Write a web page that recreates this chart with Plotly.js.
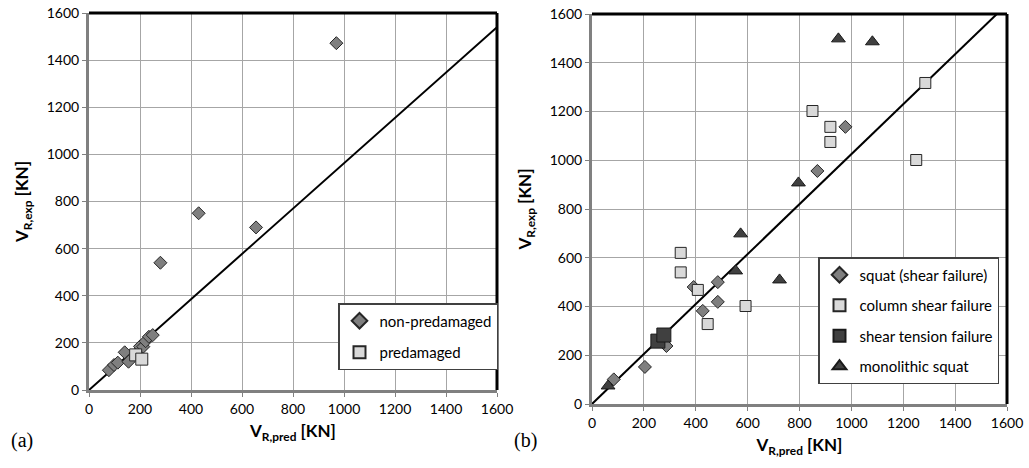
<!DOCTYPE html>
<html>
<head>
<meta charset="utf-8">
<script src="https://cdn.plot.ly/plotly-3.0.1.min.js"></script>
<style>body{margin:0;padding:0;background:#fff}#chart{width:1029px;height:468px}</style>
</head>
<body>
<div id="chart"></div>
<script>
// ---- Panel (a) data ----
const nonPredX = [78, 98, 113, 140, 155, 200, 213, 222, 235, 250, 280, 430, 655, 970];
const nonPredY = [84, 106, 116, 160, 120, 185, 184, 207, 226, 233, 540, 750, 690, 1472];
const predX = [183, 207];
const predY = [149, 131];
const lineAX = [0, 1600];
const lineAY = [0, 1540];

// ---- Panel (b) data ----
const squatX = [84, 204, 287, 392, 427, 485, 485, 869, 977];
const squatY = [101, 152, 238, 480, 382, 500, 419, 956, 1137];
const colX = [342, 342, 408, 446, 592, 850, 919, 919, 1250, 1285];
const colY = [540, 620, 468, 328, 402, 1202, 1137, 1075, 1001, 1317];
const tensX = [254, 277];
const tensY = [258, 283];
const monoX = [62, 554, 573, 723, 796, 950, 1081];
const monoY = [74, 546, 698, 509, 907, 1498, 1486];
const lineBX = [0, 1561];
const lineBY = [0, 1600];

const tickVals = [0, 200, 400, 600, 800, 1000, 1200, 1400, 1600];
const tickText = ['0', '200', '400', '600', '800', '1000', '1200', '1400', '1600'];

const font = 'Lato, "Open Sans", sans-serif';
const outline = {color: '#262626', width: 1};

const traces = [
  {x: lineAX, y: lineAY, mode: 'lines', line: {color: '#000', width: 2}, showlegend: false, hoverinfo: 'skip', xaxis: 'x', yaxis: 'y'},
  {x: nonPredX, y: nonPredY, mode: 'markers', name: 'non-predamaged', legendgroup: 'a1',
   marker: {symbol: 'diamond', size: 10, color: '#7f7f7f', line: outline}, xaxis: 'x', yaxis: 'y', legend: 'legend'},
  {x: predX, y: predY, mode: 'markers', name: 'predamaged', legendgroup: 'a2',
   marker: {symbol: 'square', size: 12, color: '#d9d9d9', line: outline}, xaxis: 'x', yaxis: 'y', legend: 'legend'},

  {x: lineBX, y: lineBY, mode: 'lines', line: {color: '#000', width: 2}, showlegend: false, hoverinfo: 'skip', xaxis: 'x2', yaxis: 'y2'},
  {x: squatX, y: squatY, mode: 'markers', name: 'squat (shear failure)', legendgroup: 'b1',
   marker: {symbol: 'diamond', size: 10, color: '#7f7f7f', line: outline}, xaxis: 'x2', yaxis: 'y2', legend: 'legend2'},
  {x: colX, y: colY, mode: 'markers', name: 'column shear failure', legendgroup: 'b2',
   marker: {symbol: 'square', size: 11, color: '#d9d9d9', line: outline}, xaxis: 'x2', yaxis: 'y2', legend: 'legend2'},
  {x: tensX, y: tensY, mode: 'markers', name: 'shear tension failure', legendgroup: 'b3',
   marker: {symbol: 'square', size: 14, color: '#404040', line: {color: '#1a1a1a', width: 1}}, xaxis: 'x2', yaxis: 'y2', legend: 'legend2'},
  {x: monoX, y: monoY, mode: 'markers', name: 'monolithic squat', legendgroup: 'b4',
   marker: {symbol: 'triangle-up', size: 12, color: '#404040', line: {color: '#1a1a1a', width: 1}}, xaxis: 'x2', yaxis: 'y2', legend: 'legend2'}
];

function axis(domain, anchor) {
  return {
    domain: domain, anchor: anchor, range: [0, 1600], tickvals: tickVals, ticktext: tickText,
    showgrid: true, gridcolor: '#a6a6a6', gridwidth: 1, zeroline: false,
    showline: true, linecolor: '#808080', linewidth: 3,
    ticks: 'outside', ticklen: 4, tickcolor: '#808080', tickwidth: 1,
    tickfont: {family: font, size: 14, color: '#000'}, fixedrange: true
  };
}

const W = 1029, H = 468;
const titleFont = {family: font, size: 17, color: '#000'};
const xa = axis([89 / W, 497 / W], 'y');
xa.title = {text: '<b>V<sub>R,pred</sub> [KN]</b>', font: titleFont, standoff: 10};
const ya = axis([1 - 390 / H, 1 - 13 / H], 'x');
ya.title = {text: '<b>V<sub>R,exp</sub> [KN]</b>', font: titleFont, standoff: 14};
const xb = axis([592 / W, 1007 / W], 'y2');
xb.title = {text: '<b>V<sub>R,pred</sub> [KN]</b>', font: titleFont, standoff: 10};
const yb = axis([1 - 404 / H, 1 - 14 / H], 'x2');
yb.title = {text: '<b>V<sub>R,exp</sub> [KN]</b>', font: titleFont, standoff: 14};

function borders(xr, yr) {
  return [
    {type: 'line', xref: xr + ' domain', yref: yr + ' domain', x0: 0, x1: 1, y0: 1, y1: 1, line: {color: '#000', width: 3}},
    {type: 'line', xref: xr + ' domain', yref: yr + ' domain', x0: 1, x1: 1, y0: 0, y1: 1, line: {color: '#000', width: 3}}
  ];
}

const layout = {
  width: W, height: H,
  margin: {l: 0, r: 0, t: 0, b: 0},
  paper_bgcolor: '#fff', plot_bgcolor: '#fff',
  font: {family: font, color: '#000'},
  xaxis: xa, yaxis: ya, xaxis2: xb, yaxis2: yb,
  legend: {
    x: 338 / W, y: 1 - 303 / H, xanchor: 'left', yanchor: 'top',
    bordercolor: '#404040', borderwidth: 1.5, bgcolor: '#fff',
    font: {family: font, size: 15, color: '#000'},
    traceorder: 'grouped', tracegroupgap: 9, itemsizing: 'constant',
    itemwidth: 30
  },
  legend2: {
    x: 818 / W, y: 1 - 257 / H, xanchor: 'left', yanchor: 'top',
    bordercolor: '#404040', borderwidth: 1.5, bgcolor: '#fff',
    font: {family: font, size: 15, color: '#000'},
    traceorder: 'grouped', tracegroupgap: 8, itemsizing: 'constant',
    itemwidth: 30
  },
  shapes: borders('x', 'y').concat(borders('x2', 'y2')),
  annotations: [
    {text: '(a)', xref: 'paper', yref: 'paper', x: 22 / W, y: 1 - 440 / H, xanchor: 'center', yanchor: 'middle', showarrow: false,
     font: {family: '"Liberation Serif", "DejaVu Serif", serif', size: 20, color: '#000'}},
    {text: '(b)', xref: 'paper', yref: 'paper', x: 525 / W, y: 1 - 440 / H, xanchor: 'center', yanchor: 'middle', showarrow: false,
     font: {family: '"Liberation Serif", "DejaVu Serif", serif', size: 20, color: '#000'}}
  ],
  showlegend: true
};

Plotly.newPlot('chart', traces, layout, {staticPlot: true, displayModeBar: false});
</script>
</body>
</html>
